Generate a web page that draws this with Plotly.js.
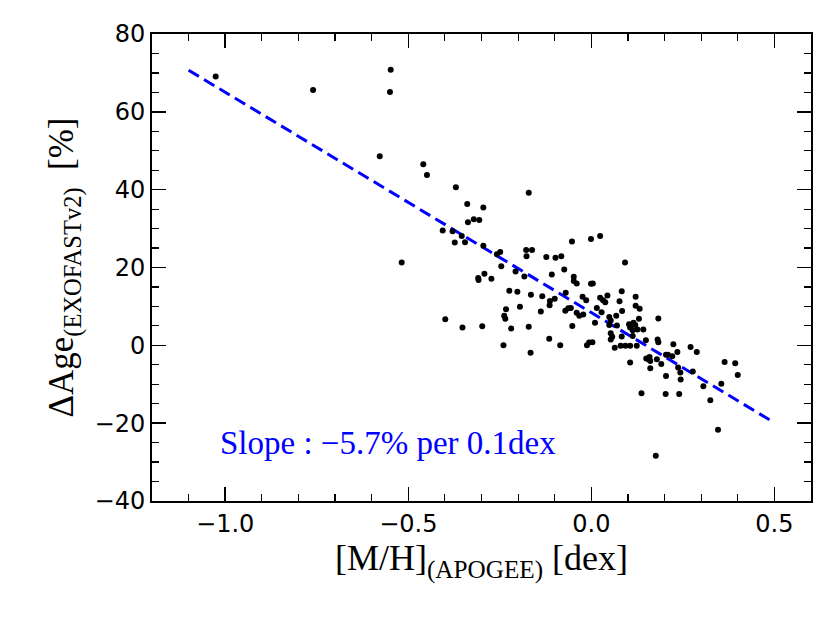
<!DOCTYPE html>
<html>
<head>
<meta charset="utf-8">
<script src="https://cdn.plot.ly/plotly-3.0.1.min.js"></script>
<style>
  html, body { margin: 0; padding: 0; background: #fff; }
  #chart { width: 830px; height: 623px; }
</style>
</head>
<body>
<div id="chart"></div>
<script>
// metallicity [M/H] (dex) and age difference (%)
const metal = [
  -1.026, -0.760, -0.548, -0.550, -0.578, -0.459, -0.449, -0.370, -0.518, -0.339,
  -0.406, -0.379, -0.354, -0.373, -0.345, -0.337, -0.321, -0.306, -0.309,
  -0.171, -0.295, -0.295, -0.258, -0.249, -0.246, -0.178, -0.162, -0.177, -0.053,
  -0.001, 0.024, -0.123, -0.098, -0.082, -0.074, -0.207, -0.108, -0.183, -0.292,
  -0.308, -0.273, -0.048, -0.048, -0.040, -0.001, 0.004, -0.224, -0.202, -0.165,
  -0.134, -0.113, -0.100, -0.070, -0.024, -0.014, 0.024, 0.032, 0.044, 0.038,
  -0.114, -0.195, -0.233, -0.138, -0.071, -0.063, -0.056, -0.040, -0.033, -0.022,
  0.015, 0.028, -0.238, -0.235, -0.399, -0.352, -0.298, -0.219, -0.171, -0.052,
  0.010, 0.049, -0.240, -0.115, -0.085, -0.012, -0.006, 0.003, -0.166, 0.053,
  0.057,
  0.092, 0.083, 0.077, 0.121, 0.121, 0.132, 0.084, 0.068, 0.049, 0.053,
  0.070, 0.083, 0.053, 0.064, 0.080, 0.093, 0.106, 0.124, 0.106, 0.103,
  0.106, 0.115, 0.120, 0.113, 0.126, 0.130, 0.142, 0.113, 0.137, 0.149,
  0.183, 0.181, 0.183, 0.150, 0.159, 0.161, 0.156, 0.161, 0.179, 0.191,
  0.204, 0.209, 0.221, 0.224, 0.235, 0.204, 0.203, 0.237, 0.243, 0.244,
  0.240, 0.176, 0.271, 0.288, 0.277, 0.306, 0.325, 0.355, 0.364, 0.393,
  0.400, 0.346
];
const dAge = [
  69.1, 65.6, 70.8, 65.1, 48.6, 46.5, 43.8, 40.6, 21.3, 36.3,
  29.5, 29.3, 28.1, 26.4, 26.5, 31.6, 32.4, 32.2, 17.3,
  39.2, 35.4, 25.6, 23.4, 24.0, 20.3, 24.5, 24.5, 22.9, 26.7,
  27.3, 28.1, 22.7, 22.5, 22.9, 19.5, 19.0, 18.2, 17.7, 18.4,
  16.8, 17.1, 17.6, 16.5, 15.9, 15.8, 15.9, 14.0, 13.8, 13.0,
  12.6, 11.4, 12.0, 13.5, 12.5, 11.6, 12.2, 11.6, 12.8, 11.1,
  10.3, 9.9, 9.3, 8.7, 8.9, 9.5, 9.6, 8.4, 7.6, 7.9,
  9.6, 8.5, 7.6, 6.8, 6.7, 4.6, 4.9, 4.3, 4.8, 5.0,
  5.8, 5.2, 0.0, 1.7, 0.0, 0.0, 0.7, 0.8, -1.9, 3.1,
  2.2,
  21.3, 13.9, 11.3, 12.5, 10.2, 9.4, 8.8, 7.6, 7.3, 6.4,
  5.1, 2.3, 1.5, -0.6, -0.1, -0.1, -0.1, -0.1, -4.4, 5.4,
  4.6, 5.8, 5.2, 3.9, 4.1, 6.8, 4.1, 2.4, -12.3, 1.3,
  6.9, 1.5, 0.8, -3.4, -3.0, -4.0, -3.6, -5.9, -3.6, -4.8,
  -2.4, -2.4, -2.8, 0.3, -1.7, -7.9, -12.5, -5.7, -7.0, -8.8,
  -12.5, -28.4, -0.4, -1.7, -6.7, -10.5, -14.1, -9.9, -4.3, -4.6,
  -7.6, -21.7
];

// linear fit endpoints
const fitX = [-1.1, 0.5];
const fitY = [70.7, -19.9];

const slopeText = 'Slope : \u22125.7% per 0.1dex';

const points = {
    x: metal,
    y: dAge,
    type: 'scatter',
    mode: 'markers',
    marker: { color: 'black', size: 6 },
    hoverinfo: 'skip'
};

const fitLine = {
    x: fitX,
    y: fitY,
    type: 'scatter',
    mode: 'lines',
    line: { color: 'rgb(0,0,255)', width: 3, dash: '12px,6px' },
    hoverinfo: 'skip'
};

const tickFont = { family: 'DejaVu Sans', size: 24, color: 'black' };
const serif = 'Liberation Serif';

const layout = {
    width: 830,
    height: 623,
    margin: { l: 152, r: 19, t: 34, b: 122 },
    paper_bgcolor: 'white',
    plot_bgcolor: 'white',
    showlegend: false,
    xaxis: {
        range: [-1.2, 0.6],
        tickmode: 'linear',
        tick0: -1.0,
        dtick: 0.5,
        tickformat: '.1f',
        ticks: 'inside',
        ticklen: 14,
        tickwidth: 1.5,
        tickcolor: 'black',
        minor: { dtick: 0.1, ticks: 'inside', ticklen: 7, tickwidth: 1.2, tickcolor: 'black' },
        showline: true,
        linecolor: 'black',
        linewidth: 2,
        mirror: 'allticks',
        showgrid: false,
        zeroline: false,
        tickfont: tickFont,
        title: {
            text: '[M/H]<sub>(APOGEE)</sub> [dex]',
            font: { family: serif, size: 36, color: 'black' },
            standoff: 8
        }
    },
    yaxis: {
        range: [-40, 80],
        tickmode: 'linear',
        tick0: -40,
        dtick: 20,
        ticks: 'inside',
        ticklen: 14,
        tickwidth: 1.5,
        tickcolor: 'black',
        minor: { dtick: 5, ticks: 'inside', ticklen: 7, tickwidth: 1.2, tickcolor: 'black' },
        showline: true,
        linecolor: 'black',
        linewidth: 2,
        mirror: 'allticks',
        showgrid: false,
        zeroline: false,
        tickfont: tickFont,
        title: {
            text: '\u0394Age<sub>(EXOFASTv2)</sub>  [%]',
            font: { family: serif, size: 35, color: 'black' },
            standoff: 10
        }
    },
    annotations: [{
        x: -1.02,
        y: -25,
        xref: 'x',
        yref: 'y',
        xanchor: 'left',
        yanchor: 'middle',
        text: slopeText,
        showarrow: false,
        font: { family: serif, size: 33, color: 'rgb(0,0,255)' }
    }]
};

Plotly.newPlot('chart', [fitLine, points], layout, { staticPlot: true, displayModeBar: false });
</script>
</body>
</html>
